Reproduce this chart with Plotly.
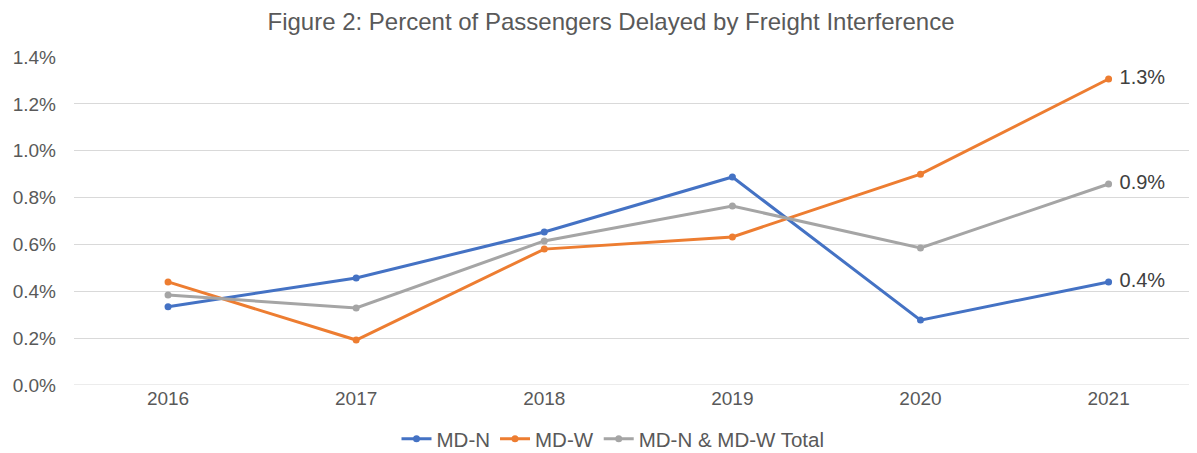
import plotly.graph_objects as go

years = ["2016", "2017", "2018", "2019", "2020", "2021"]
md_n = [0.334, 0.457, 0.653, 0.888, 0.277, 0.440]
md_w = [0.440, 0.192, 0.580, 0.632, 0.900, 1.306]
total = [0.384, 0.329, 0.615, 0.764, 0.585, 0.858]
end_labels = {"MD-N": "0.4%", "MD-W": "1.3%", "MD-N & MD-W Total": "0.9%"}

series = [
    ("MD-N", md_n, "#4472C4"),
    ("MD-W", md_w, "#ED7D31"),
    ("MD-N & MD-W Total", total, "#A5A5A5"),
]

# page has an 8px body margin; compensate
W, H = 1189, 445

fig = go.Figure()
for name, vals, color in series:
    texts = [""] * (len(vals) - 1) + [" " + end_labels[name]]
    fig.add_trace(go.Scatter(
        x=years, y=vals, name=name, mode="lines+markers+text",
        line=dict(color=color, width=3),
        marker=dict(color=color, size=7),
        text=texts, textposition="middle right",
        textfont=dict(size=20, color="#404040", family="Arial, Liberation Sans"),
        cliponaxis=False,
    ))

fig.update_layout(
    width=W, height=H,
    margin=dict(l=66, r=0, t=49, b=68),
    paper_bgcolor="white", plot_bgcolor="white",
    font=dict(family="Arial, Liberation Sans", color="#595959"),
    title=dict(text="Figure 2: Percent of Passengers Delayed by Freight Interference",
               x=603 / W, xanchor="center", y=1 - 14 / H, yanchor="middle",
               font=dict(size=24, color="#595959")),
    showlegend=True,
    legend=dict(orientation="h", xref="container", yref="container",
                x=605 / W, xanchor="center", y=1 - 431 / H, yanchor="middle",
                font=dict(size=20.5, color="#595959"),
                traceorder="normal"),
    xaxis=dict(type="category", range=[-0.5, 5.47], showgrid=False,
               showline=False, ticks="", tickfont=dict(size=19, color="#595959"),
               zeroline=False),
    yaxis=dict(range=[0, 1.4], dtick=0.2, tickformat=".1f", ticksuffix="%",
               showgrid=True, gridcolor="#D9D9D9", gridwidth=1,
               zeroline=False, showline=False, ticks="", ticklabelstandoff=17,
               tickfont=dict(size=19, color="#595959")),
)
fig.add_shape(type="line", xref="paper", yref="y", x0=0, x1=1, y0=0, y1=0,
              line=dict(color="#D9D9D9", width=1), layer="below")

fig.write_html("out.html")
